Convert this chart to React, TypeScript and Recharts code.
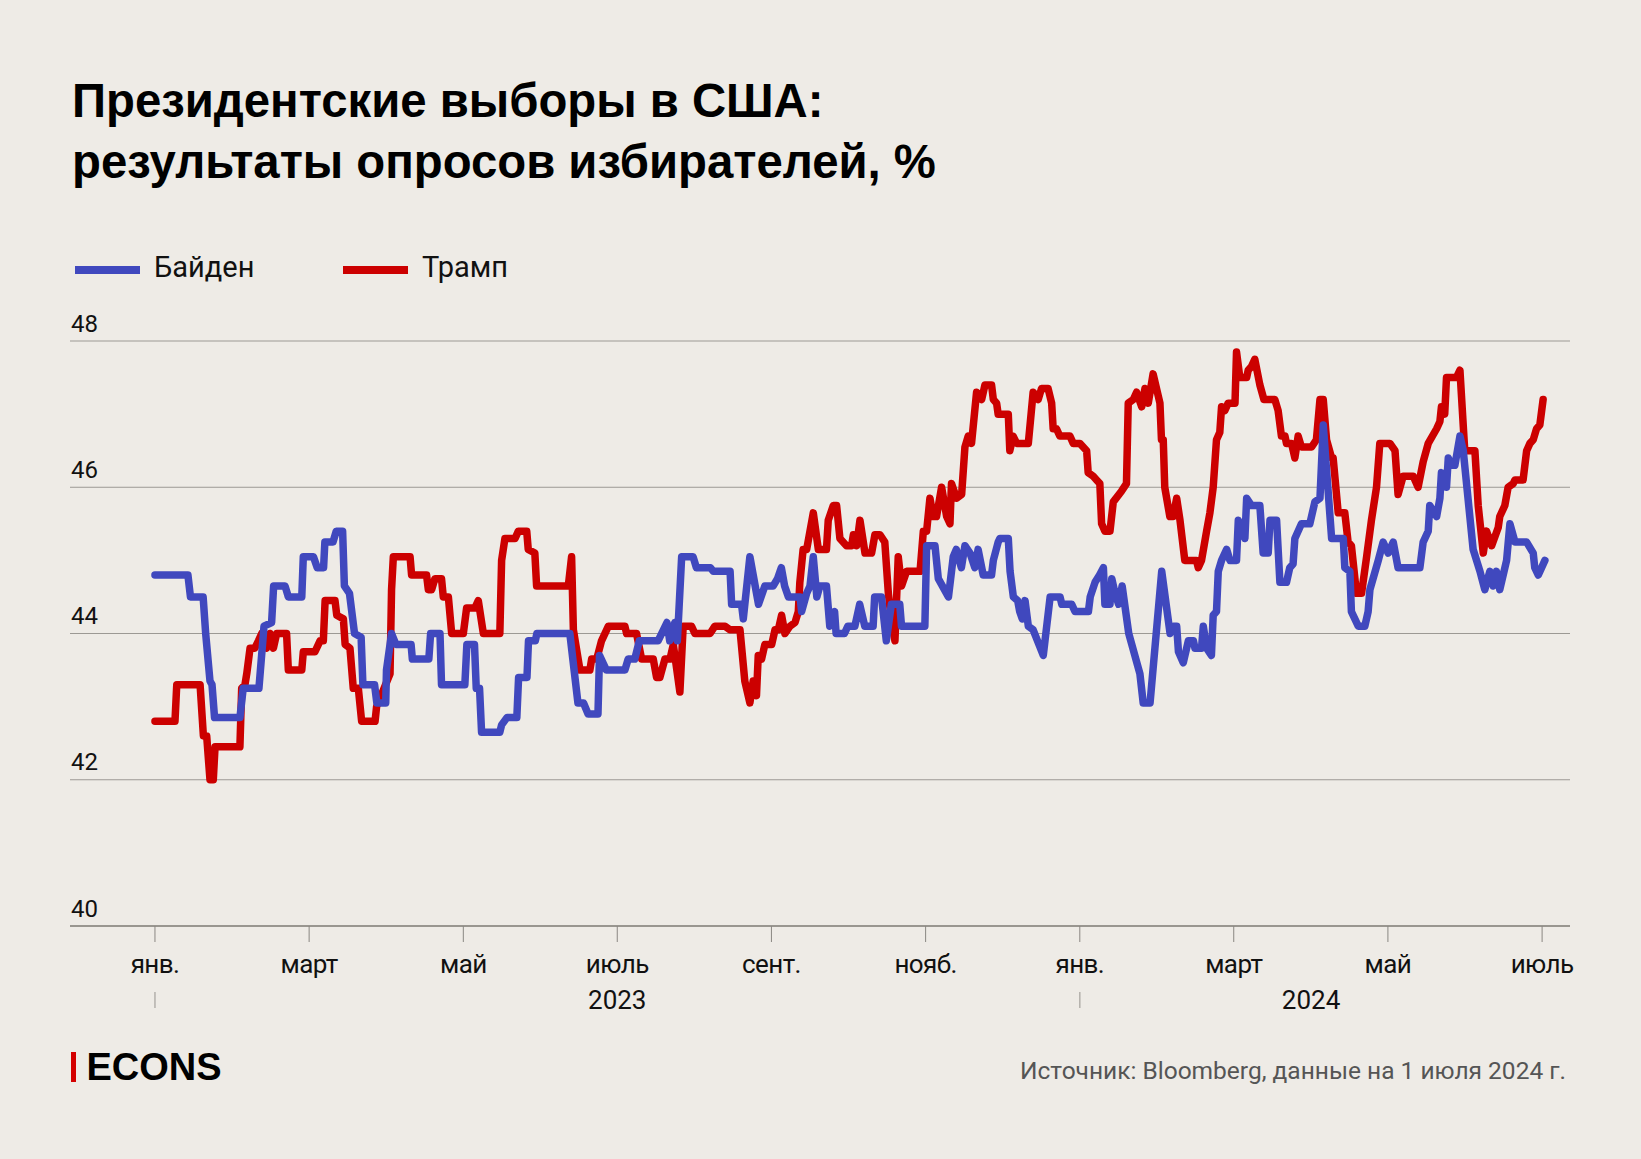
import { LineChart, Line, XAxis, YAxis, CartesianGrid } from 'recharts'

// дни от 1 января 2023 г. и значения, %
const biden: [number, number][] = [
  [0, 44.8], [13, 44.8], [14, 44.5], [19, 44.5], [20, 44.0], [21.7, 43.35], [22.5, 43.3], [23.5, 42.85], [33.5, 42.85],
  [34.8, 43.25], [41, 43.25], [43, 44.1], [46, 44.15], [46.8, 44.65], [51.3, 44.65], [52.6, 44.5], [57.9, 44.5],
  [58.5, 45.05], [62.5, 45.05], [64, 44.9], [66.5, 44.9], [67, 45.25], [70.2, 45.25], [71.5, 45.4], [74, 45.4],
  [74.7, 44.65], [76.7, 44.55], [78.7, 44.0], [81.3, 43.95], [82, 43.3], [86.6, 43.3], [87.5, 43.05], [91, 43.05],
  [91.3, 43.5], [93.3, 44.0], [95, 43.85], [101, 43.85], [101.5, 43.65], [108, 43.65], [108.7, 44.0], [112.4, 44.0],
  [113, 43.3], [122.2, 43.3], [123, 43.85], [126, 43.85], [126.7, 43.25], [128, 43.25], [128.8, 42.65], [136, 42.65],
  [136.7, 42.75], [138.8, 42.85], [142.7, 42.85], [143.4, 43.4], [146.7, 43.4], [147.3, 43.9], [150, 43.9],
  [150.6, 44.0], [163.6, 44.0], [166.8, 43.05], [169, 43.05], [170.8, 42.9], [174.7, 42.9], [175.3, 43.7], [178, 43.5],
  [185.3, 43.5], [186.6, 43.65], [189.2, 43.65], [191, 43.9], [198.4, 43.9], [201.9, 44.15], [203, 43.9], [205, 44.15],
  [206, 43.9], [207.7, 45.05], [212.2, 45.05], [213.5, 44.9], [219, 44.9], [220.2, 44.85], [226.8, 44.85], [227.4, 44.4],
  [231.3, 44.4], [232, 44.2], [234.6, 45.05], [238, 44.4], [240.5, 44.65], [243.8, 44.65], [245.5, 44.75], [247, 44.9],
  [248.3, 44.65], [249.8, 44.5], [254.4, 44.5], [255, 44.3], [257, 44.55], [258.3, 44.65], [259.6, 45.05], [261, 44.5],
  [262.2, 44.65], [264.8, 44.65], [266.1, 44.1], [268, 44.3], [268.6, 44.0], [271.9, 44.0], [273.2, 44.1], [276, 44.1],
  [277.9, 44.4], [279.9, 44.1], [283.2, 44.1], [283.8, 44.5], [286.5, 44.5], [288.4, 43.9], [290.4, 44.4], [293.7, 44.4],
  [294.4, 44.1], [303.6, 44.1], [304.3, 45.2], [307.6, 45.2], [308.9, 44.75], [312.9, 44.5], [314.8, 45.05], [316, 45.15],
  [318, 44.9], [319.4, 45.2], [321.4, 45.1], [323.3, 44.9], [324.6, 45.15], [326.6, 44.8], [329.9, 44.8], [330.6, 45.0],
  [332.5, 45.25], [333.2, 45.3], [336.5, 45.3], [337.2, 44.85], [338.5, 44.5], [340.2, 44.45], [341, 44.3], [342, 44.2],
  [343.1, 44.45], [344.4, 44.1], [346.3, 44.05], [350.3, 43.7], [353, 44.5], [356.9, 44.5], [357.6, 44.4], [361.5, 44.4],
  [362.8, 44.3], [368.1, 44.3], [368.8, 44.5], [370.7, 44.7], [372.5, 44.8], [374, 44.9], [374.6, 44.4], [376.6, 44.4],
  [377.3, 44.75], [378.6, 44.55], [380, 44.4], [381.4, 44.65], [384, 44.0], [388.4, 43.45], [389.7, 43.05], [392.4, 43.05],
  [397, 44.85], [400.3, 44.0], [401.6, 44.1], [402.9, 44.1], [403.6, 43.75], [405.5, 43.6], [407.5, 43.9], [409.5, 43.9],
  [410.1, 43.8], [412.7, 43.8], [413.4, 44.1], [414.7, 43.8], [416.6, 43.7], [417.3, 44.25], [418.6, 44.3], [419.3, 44.85],
  [420.6, 45.0], [422.6, 45.15], [423.9, 45.0], [426.5, 45.0], [427.2, 45.55], [429.8, 45.3], [430.5, 45.85], [432.4, 45.75],
  [435.7, 45.75], [437, 45.1], [439, 45.1], [439.7, 45.55], [442.3, 45.55], [443.6, 44.7], [446.2, 44.7], [447.5, 44.9],
  [448.8, 44.95], [449.5, 45.3], [452.1, 45.5], [455.4, 45.5], [457.4, 45.8], [459.4, 45.85], [460.7, 46.85], [464, 45.3],
  [468.6, 45.3], [469.2, 44.9], [471.2, 44.85], [471.8, 44.3], [474.5, 44.1], [477.1, 44.1], [478.4, 44.3], [479.1, 44.6],
  [482.4, 45.0], [484.3, 45.25], [486.3, 45.1], [488.3, 45.25], [490.2, 44.9], [498.8, 44.9], [500.1, 45.25], [502.1, 45.4],
  [502.7, 45.75], [505.4, 45.6], [506.7, 45.85], [507.3, 46.2], [509.3, 46.0], [510, 46.4], [511.3, 46.3], [512.6, 46.3],
  [514.6, 46.7], [515.9, 46.5], [519.8, 45.15], [522.5, 44.85], [524.4, 44.6], [526.4, 44.85], [527.7, 44.65], [529, 44.85],
  [530.3, 44.6], [533, 45.0], [534.3, 45.5], [536.3, 45.25], [540.9, 45.25], [543.5, 45.1], [544.1, 44.9], [545.5, 44.8],
  [548.1, 45.0],
]

const trump: [number, number][] = [
  [0, 42.8], [7.9, 42.8], [8.6, 43.3], [17.8, 43.3], [19.1, 42.6], [20.4, 42.6], [21.7, 42.0], [23, 42.0], [23.7, 42.45],
  [33.5, 42.45], [34.2, 43.25], [35.5, 43.3], [36.2, 43.45], [37.5, 43.8], [39.4, 43.8], [40.8, 43.9], [42.1, 44.0],
  [44, 43.8], [45.4, 44.0], [46.7, 43.8], [48, 44.0], [51.9, 44.0], [52.6, 43.5], [57.9, 43.5], [58.5, 43.75], [63.1, 43.75],
  [65.1, 43.9], [66.4, 43.9], [67.1, 44.45], [71, 44.45], [71.7, 44.25], [74.3, 44.2], [75, 43.85], [76.9, 43.8],
  [78.2, 43.25], [80.2, 43.25], [81.5, 42.8], [86.8, 42.8], [87.4, 43.0], [92.7, 43.45], [93.3, 44.6], [94, 45.05],
  [100.6, 45.05], [101.2, 44.8], [107.1, 44.8], [107.8, 44.6], [109.1, 44.6], [110.4, 44.75], [113, 44.75], [113.7, 44.5],
  [115.7, 44.5], [117, 44.0], [121.6, 44.0], [122.9, 44.35], [126.2, 44.35], [127.5, 44.45], [129.5, 44.0], [136, 44.0],
  [136.7, 45.0], [138, 45.3], [142, 45.3], [143.3, 45.4], [146.6, 45.4], [147.2, 45.15], [149.8, 45.1], [150.5, 44.65],
  [163, 44.65], [164.3, 45.05], [165, 44.05], [167.6, 43.5], [171.5, 43.5], [172.2, 43.65], [174.2, 43.65], [176.1, 43.9],
  [178.8, 44.1], [185.3, 44.1], [186, 44.0], [189.9, 44.0], [191.9, 43.65], [196.5, 43.65], [197.8, 43.4], [199.1, 43.4],
  [201.1, 43.65], [203.1, 43.65], [204.4, 43.85], [207, 43.2], [208.3, 44.1], [211.6, 44.1], [212.9, 44.0], [218.9, 44.0],
  [220.8, 44.1], [224.8, 44.1], [226.7, 44.05], [230.7, 44.05], [232.6, 43.35], [234.6, 43.05], [235.9, 43.35],
  [237.2, 43.15], [237.9, 43.7], [239.2, 43.65], [240.5, 43.85], [243.2, 43.85], [244.5, 44.05], [245.8, 44.05],
  [247.1, 44.25], [248.4, 44.0], [250.4, 44.1], [252.4, 44.15], [253.7, 44.3], [254.3, 44.7], [255.6, 45.15], [257, 45.15],
  [259.6, 45.65], [261.6, 45.15], [264.8, 45.15], [265.5, 45.55], [267.5, 45.75], [268.8, 45.75], [270.1, 45.3],
  [272.7, 45.2], [274.7, 45.2], [275.4, 45.35], [276.7, 45.2], [278, 45.55], [280, 45.1], [282.6, 45.1], [283.9, 45.35],
  [285.9, 45.35], [287.8, 45.25], [289.2, 44.55], [290.5, 44.15], [291.8, 43.9], [293.1, 45.05], [294.4, 44.65],
  [296.4, 44.85], [301.7, 44.85], [303, 45.4], [304.3, 45.4], [305.6, 45.85], [306.9, 45.6], [308.2, 45.6], [310.2, 46.0],
  [312.2, 45.6], [313.5, 45.5], [314.1, 46.05], [316.1, 45.85], [318.1, 45.9], [319.4, 46.55], [320.7, 46.7], [322, 46.6],
  [324, 47.3], [326, 47.2], [327.3, 47.4], [329.9, 47.4], [330.6, 47.2], [331.9, 47.15], [332.5, 47.0], [336.5, 47.0],
  [337.1, 46.5], [338.4, 46.7], [339.8, 46.6], [344.4, 46.6], [346.3, 47.3], [348.3, 47.2], [349.6, 47.35], [352.2, 47.35],
  [353.6, 47.15], [354.2, 46.8], [355.5, 46.8], [356.8, 46.7], [360.8, 46.7], [362.1, 46.6], [364.7, 46.6], [367.4, 46.5],
  [368, 46.2], [370, 46.15], [371.3, 46.1], [372.6, 46.05], [373.3, 45.5], [374.6, 45.4], [376.6, 45.4], [377.9, 45.8],
  [381.2, 45.95], [383.1, 46.05], [383.8, 47.15], [385.8, 47.2], [387.1, 47.3], [389.1, 47.1], [390.4, 47.35],
  [391.7, 47.15], [393.6, 47.55], [396.3, 47.15], [396.9, 46.65], [397.6, 46.65], [398.2, 46.0], [400.2, 45.6],
  [401.5, 45.6], [402.9, 45.85], [404.2, 45.55], [406.1, 45.0], [410.7, 45.0], [411.4, 44.9], [412.7, 45.0], [414.7, 45.4],
  [416, 45.65], [417.3, 46.0], [418.6, 46.65], [419.9, 46.75], [420.6, 47.1], [421.9, 47.05], [423.2, 47.15],
  [425.9, 47.15], [426.5, 47.85], [427.8, 47.5], [430.5, 47.5], [431.1, 47.6], [432.4, 47.65], [433.7, 47.75],
  [435.7, 47.4], [437.3, 47.2], [441.6, 47.2], [442.9, 47.05], [444.2, 46.7], [445.6, 46.7], [446.2, 46.6], [448.2, 46.6],
  [449.5, 46.4], [450.8, 46.7], [452.1, 46.55], [456.1, 46.55], [458, 46.65], [459.4, 47.2], [460.7, 47.2], [462, 46.65],
  [464, 46.4], [464.6, 46.4], [466.6, 45.65], [469.2, 45.65], [470.5, 45.25], [471.8, 45.2], [473.8, 44.55], [475.8, 44.55],
  [477.8, 45.05], [479.7, 45.55], [481.7, 46.0], [483, 46.6], [487, 46.6], [489, 46.5], [490.2, 45.9], [492.2, 46.15],
  [496.2, 46.15], [498.1, 46.0], [500.1, 46.35], [502.1, 46.6], [505.4, 46.8], [506.7, 46.9], [507.3, 47.1], [508.6, 47.0],
  [509.3, 47.5], [513.2, 47.5], [514.6, 47.6], [516.5, 46.5], [520.5, 46.5], [521.8, 45.75], [523.8, 45.1], [525.1, 45.4],
  [527.1, 45.2], [529.7, 45.45], [530.3, 45.6], [532.3, 45.75], [533.6, 46.0], [535.6, 46.05], [536.3, 46.1],
  [539.5, 46.1], [540.9, 46.5], [542.2, 46.6], [543.5, 46.65], [544.8, 46.8], [546.1, 46.85], [547.4, 47.2],
]

// деления через каждые два месяца, как на оригинале — на равном расстоянии
const monthTicks = [0, 60.8, 121.6, 182.3, 243.1, 303.9, 364.7, 425.4, 486.2, 547]
const monthLabels = ['янв.', 'март', 'май', 'июль', 'сент.', 'нояб.', 'янв.', 'март', 'май', 'июль']
const yearTicks = [0, 182.3, 364.7, 455.9]
const yearLabels = ['', '2023', '', '2024']
const valueTicks = [40, 42, 44, 46, 48]

const BLUE = '#4048be'
const RED = '#cc0000'
const GRID = '#9c9994'
const BG = '#eeebe6'

const bidenData = biden.map(([day, value]) => ({ day, value }))
const trumpData = trump.map(([day, value]) => ({ day, value }))

const MonthTick = (props: any) => {
  const i = monthTicks.indexOf(props.payload.value)
  return (
    <text x={props.x} y={972.5} textAnchor="middle" fontFamily="Roboto" fontSize={26} letterSpacing={-0.6} fill="#111">
      {monthLabels[i]}
    </text>
  )
}

const YearTick = (props: any) => {
  const i = yearTicks.indexOf(props.payload.value)
  if (!yearLabels[i]) {
    return <line x1={props.x} x2={props.x} y1={992} y2={1008} stroke="#b3b0ab" strokeWidth={1.5} />
  }
  return (
    <text x={props.x} y={1009} textAnchor="middle" fontFamily="Roboto" fontSize={26} fill="#111">
      {yearLabels[i]}
    </text>
  )
}

const ValueTick = (props: any) => (
  <text x={71} y={props.y - 9.5} textAnchor="start" fontFamily="Roboto" fontSize={24} fill="#111">
    {props.payload.value}
  </text>
)

export default function App() {
  return (
    <div style={{ position: 'absolute', left: 0, top: 0, width: 1641, height: 1159, background: BG, overflow: 'hidden' }}>
      {/* заголовок */}
      <div style={{ position: 'absolute', left: 72, top: 69.5, fontFamily: '"Liberation Sans", Arial, sans-serif', fontWeight: 700, fontSize: 47.3, lineHeight: '61.6px', color: '#000', whiteSpace: 'nowrap' }}>
        Президентские выборы в США:<br />результаты опросов избирателей, %
      </div>

      {/* легенда */}
      <div style={{ position: 'absolute', left: 75, top: 266, width: 65, height: 7.5, background: BLUE }} />
      <div style={{ position: 'absolute', left: 154, top: 253, fontFamily: 'Roboto', fontSize: 29, lineHeight: '29px', color: '#111' }}>Байден</div>
      <div style={{ position: 'absolute', left: 343, top: 266, width: 65, height: 7.5, background: RED }} />
      <div style={{ position: 'absolute', left: 422, top: 253, fontFamily: 'Roboto', fontSize: 29, lineHeight: '29px', color: '#111' }}>Трамп</div>

      <div style={{ position: 'absolute', left: 0, top: 0 }}>
        <LineChart width={1641} height={1159} margin={{ top: 341, right: 71, bottom: 123, left: 69 }}>
          <CartesianGrid vertical={false} stroke={GRID} strokeWidth={1} />
          <XAxis
            type="number"
            dataKey="day"
            domain={[-33.5, 558]}
            allowDataOverflow
            ticks={monthTicks}
            interval={0}
            height={60}
            tickSize={16}
            axisLine={{ stroke: '#8a8782', strokeWidth: 1.5 }}
            tickLine={{ stroke: '#8a8782', strokeWidth: 1 }}
            tick={(p: any) => <MonthTick {...p} />}
          />
          <XAxis
            xAxisId="year"
            type="number"
            dataKey="day"
            domain={[-33.5, 558]}
            allowDataOverflow
            ticks={yearTicks}
            interval={0}
            height={50}
            axisLine={false}
            tickLine={false}
            tick={(p: any) => <YearTick {...p} />}
          />
          <YAxis
            type="number"
            domain={[40, 48]}
            ticks={valueTicks}
            interval={0}
            width={1}
            axisLine={false}
            tickLine={false}
            tick={(p: any) => <ValueTick {...p} />}
          />
          <Line data={trumpData} dataKey="value" type="linear" stroke={RED} strokeWidth={7.5} strokeLinejoin="round" strokeLinecap="round" dot={false} isAnimationActive={false} />
          <Line data={bidenData} dataKey="value" type="linear" stroke={BLUE} strokeWidth={7.5} strokeLinejoin="round" strokeLinecap="round" dot={false} isAnimationActive={false} />
        </LineChart>
      </div>

      {/* подвал */}
      <div style={{ position: 'absolute', left: 70.5, top: 1052, width: 5, height: 30, background: '#d40000' }} />
      <div style={{ position: 'absolute', left: 86.5, top: 1047.5, fontFamily: '"Liberation Sans", Arial, sans-serif', fontWeight: 700, fontSize: 38, lineHeight: '38px', color: '#000' }}>ECONS</div>
      <div style={{ position: 'absolute', right: 1641 - 1566, top: 1059, fontFamily: 'Roboto', fontSize: 24.5, lineHeight: '24.5px', color: '#555', whiteSpace: 'nowrap' }}>
        Источник: Bloomberg, данные на 1 июля 2024 г.
      </div>
    </div>
  )
}
